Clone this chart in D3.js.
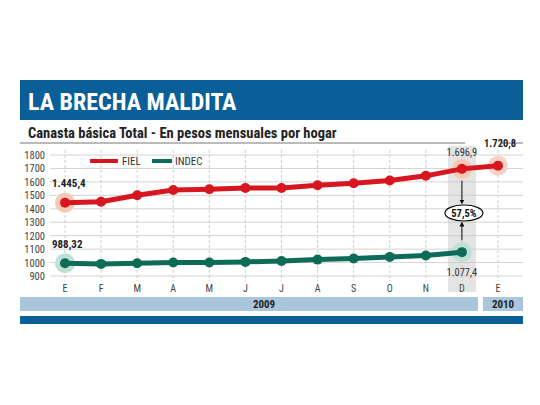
<!DOCTYPE html>
<html><head><meta charset="utf-8">
<script src="https://cdn.jsdelivr.net/npm/d3@7"></script>
<style>body{margin:0;background:#fff}text{font-family:"Roboto Condensed","Liberation Sans Narrow","Roboto",sans-serif}</style>
</head><body><svg id="c" width="540" height="405"></svg>
<script>
var months = ['E','F','M','A','M','J','J','A','S','O','N','D','E'];
var fiel = [1445.4,1452,1500,1540,1545,1555,1555,1575,1590,1610,1645,1696.9,1720.8];
var indec = [995,990,995,1000,1000,1005,1012,1022,1030,1042,1053,1077.4];
var yTicks = [900,1000,1100,1200,1300,1400,1500,1600,1700,1800];

var svg = d3.select('#c');
var blue = '#0a5f98', red = '#d7161f', green = '#0e6b57';

svg.append('rect').attr('x',20).attr('y',80).attr('width',503).attr('height',40).attr('fill',blue);
svg.append('text').attr('x',28).attr('y',110).attr('fill','#fff').attr('font-size',24).attr('font-weight','bold')
  .attr('font-family','Liberation Sans Narrow,Roboto,sans-serif').text('LA BRECHA MALDITA');
svg.append('text').attr('x',28).attr('y',138).attr('font-size',14.5).attr('font-weight','bold').attr('fill','#222')
  .attr('font-family','Liberation Sans Narrow,Roboto,sans-serif').text('Canasta básica Total - En pesos mensuales por hogar');
svg.append('line').attr('x1',20).attr('x2',465).attr('y1',143).attr('y2',143).attr('stroke','#777');
svg.append('line').attr('x1',500).attr('x2',523).attr('y1',143).attr('y2',143).attr('stroke','#777');

var x = d3.scalePoint().domain(d3.range(months.length)).range([65,498]);
var y = d3.scaleLinear().domain([900,1800]).range([276,155]);

svg.append('rect').attr('x',x(11)-14).attr('y',146).attr('width',28).attr('height',146).attr('fill','#e4e4e4');

svg.append('g').selectAll('line').data(yTicks).join('line')
  .attr('x1',50).attr('x2',523).attr('y1',function(d){return y(d);}).attr('y2',function(d){return y(d);})
  .attr('stroke','#c8c8c8').attr('stroke-width',0.8);
svg.append('g').selectAll('text').data(yTicks).join('text')
  .attr('x',45).attr('y',function(d){return y(d)+4;}).attr('text-anchor','end').attr('font-size',10.5).attr('fill','#444')
  .text(function(d){return d;});
svg.append('g').selectAll('line').data(months).join('line')
  .attr('x1',function(d,i){return x(i);}).attr('x2',function(d,i){return x(i);})
  .attr('y1',150).attr('y2',281).attr('stroke','#bbb').attr('stroke-dasharray','3,2').attr('stroke-width',0.7);
svg.append('g').selectAll('text').data(months).join('text')
  .attr('x',function(d,i){return x(i);}).attr('y',292).attr('text-anchor','middle').attr('font-size',10).attr('fill','#444')
  .text(function(d){return d;});

// halos
[[0,fiel[0],'#f6c9b5'],[11,fiel[11],'#f6c9b5'],[12,fiel[12],'#f6d3c4'],[0,indec[0],'#bfe0d6'],[11,indec[11],'#bfe0d6']].forEach(function(h){
  svg.append('circle').attr('cx',x(h[0])).attr('cy',y(h[1])).attr('r',10).attr('fill',h[2]);
});

function series(data,col){
  svg.append('path').datum(data).attr('fill','none').attr('stroke',col).attr('stroke-width',5)
    .attr('d',d3.line().x(function(d,i){return x(i);}).y(function(d){return y(d);}));
  svg.append('g').selectAll('circle').data(data).join('circle')
    .attr('cx',function(d,i){return x(i);}).attr('cy',function(d){return y(d);}).attr('r',5).attr('fill',col);
}
series(fiel,red);
series(indec,green);

// legend
svg.append('line').attr('x1',90).attr('x2',118).attr('y1',161).attr('y2',161).attr('stroke',red).attr('stroke-width',4);
svg.append('text').attr('x',122).attr('y',165).attr('font-size',11).attr('fill','#333').text('FIEL');
svg.append('line').attr('x1',152).attr('x2',172).attr('y1',161).attr('y2',161).attr('stroke',green).attr('stroke-width',4);
svg.append('text').attr('x',175).attr('y',165).attr('font-size',11).attr('fill','#333').text('INDEC');

// value labels
svg.append('text').attr('x',52).attr('y',187).attr('font-size',11).attr('font-weight','bold').attr('fill','#222').text('1.445,4');
svg.append('text').attr('x',52).attr('y',248).attr('font-size',11).attr('font-weight','bold').attr('fill','#222').text('988,32');
svg.append('text').attr('x',x(11)).attr('y',156).attr('text-anchor','middle').attr('font-size',10.5).attr('fill','#333').text('1.696,9');
svg.append('text').attr('x',x(12)-14).attr('y',147).attr('font-size',10.5).attr('font-weight','bold').attr('fill','#222').text('1.720,8');
svg.append('text').attr('x',x(11)).attr('y',276).attr('text-anchor','middle').attr('font-size',10.5).attr('fill','#333').text('1.077,4');

// gap arrows
var defs = svg.append('defs');
defs.append('marker').attr('id','ah').attr('viewBox','0 0 6 6').attr('refX',3).attr('refY',3)
  .attr('markerWidth',5).attr('markerHeight',5).attr('orient','auto')
  .append('path').attr('d','M0,0L6,3L0,6Z').attr('fill','#111');
svg.append('line').attr('x1',x(11)).attr('x2',x(11)).attr('y1',y(fiel[11])+12).attr('y2',202).attr('stroke','#111').attr('marker-end','url(#ah)');
svg.append('line').attr('x1',x(11)).attr('x2',x(11)).attr('y1',y(indec[11])-12).attr('y2',224).attr('stroke','#111').attr('marker-end','url(#ah)');
svg.append('ellipse').attr('cx',x(11)+2).attr('cy',213).attr('rx',19).attr('ry',8).attr('fill','#fff').attr('stroke','#111').attr('stroke-width',1.2);
svg.append('text').attr('x',x(11)+2).attr('y',217).attr('text-anchor','middle').attr('font-size',10.5).attr('font-weight','bold').attr('fill','#111').text('57,5%');

// year bars
svg.append('rect').attr('x',20).attr('y',297).attr('width',458).attr('height',14).attr('fill','#a9c6dc');
svg.append('rect').attr('x',483).attr('y',297).attr('width',40).attr('height',14).attr('fill','#a9c6dc');
svg.append('text').attr('x',264).attr('y',308).attr('text-anchor','middle').attr('font-size',11).attr('font-weight','bold').attr('fill','#222').text('2009');
svg.append('text').attr('x',503).attr('y',308).attr('text-anchor','middle').attr('font-size',11).attr('font-weight','bold').attr('fill','#222').text('2010');
svg.append('rect').attr('x',20).attr('y',316).attr('width',503).attr('height',8).attr('fill',blue);
</script></body></html>
